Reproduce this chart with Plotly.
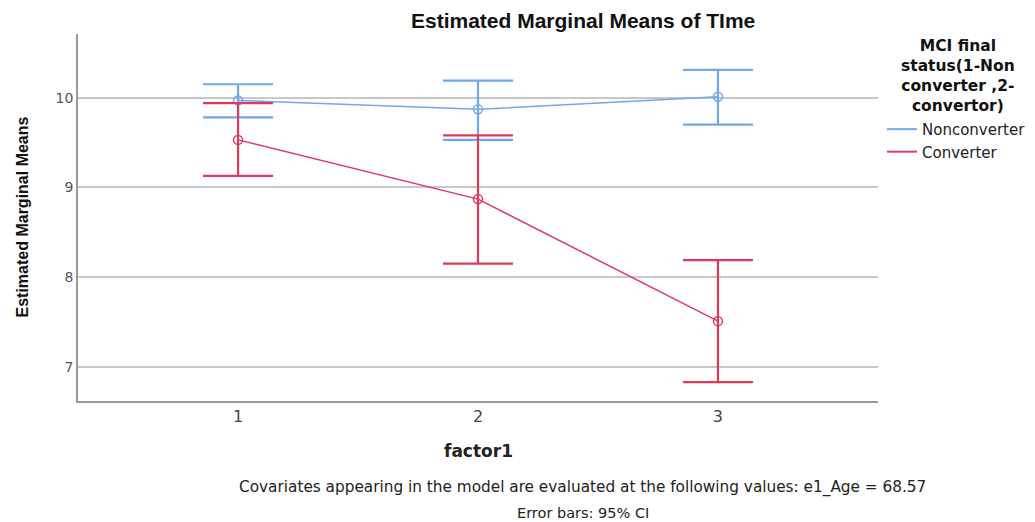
import plotly.graph_objects as go

factor = [1, 2, 3]
tick_labels = ["1", "2", "3"]
non_mean = [9.97, 9.87, 10.01]
non_upper = [10.15, 10.19, 10.31]
non_lower = [9.78, 9.53, 9.70]
conv_mean = [9.53, 8.87, 7.51]
conv_upper = [9.94, 9.58, 8.19]
conv_lower = [9.13, 8.15, 6.83]
series_names = ["Nonconverter", "Converter"]
legend_title = "MCI final<br>status(1-Non<br>converter ,2-<br>convertor)"

blue = "#6FA8EC"
red = "#E0385F"
FONT = "DejaVu Sans, Liberation Sans, Arial, sans-serif"

def err(mean, up, lo, color):
    return dict(type="data", symmetric=False,
                array=[u - m for u, m in zip(up, mean)],
                arrayminus=[m - l for m, l in zip(mean, lo)],
                thickness=2.2, width=35, color=color)

fig = go.Figure()
for name, mean, up, lo, col in [(series_names[0], non_mean, non_upper, non_lower, blue),
                                 (series_names[1], conv_mean, conv_upper, conv_lower, red)]:
    fig.add_trace(go.Scatter(x=factor, y=mean, mode="lines+markers", name=name, showlegend=False,
                             line=dict(color=col, width=1.5),
                             marker=dict(symbol="circle-open", size=9, color=col, line=dict(width=1.5)),
                             error_y=err(mean, up, lo, col)))
    # legend entry (line only)
    fig.add_trace(go.Scatter(x=[None], y=[None], mode="lines", name=name,
                             line=dict(color=col, width=2)))

# page body has an 8px margin, so the figure is sized/offset to fit the 1035x522 window
fig.update_layout(
    width=1027, height=514,
    margin=dict(l=70, r=157, t=26, b=121, autoexpand=False),
    plot_bgcolor="white", paper_bgcolor="white",
    font=dict(family=FONT, color="#222"),
    showlegend=True,
    legend=dict(x=1.005, xanchor="left", y=0.785, yanchor="top",
                font=dict(family=FONT, size=15, color="#222"), bgcolor="rgba(0,0,0,0)",
                tracegroupgap=0, itemwidth=30),
    xaxis=dict(range=[0.333, 3.667], tickvals=factor, ticktext=tick_labels, automargin=False,
               showgrid=False, zeroline=False, showline=True, linecolor="#999",
               linewidth=1.5, ticks="", tickfont=dict(family=FONT, size=16, color="#444")),
    yaxis=dict(range=[6.62, 10.71], tickvals=[7, 8, 9, 10], automargin=False,
               showgrid=True, gridcolor="#C8C8C8", gridwidth=1.5, zeroline=False,
               showline=True, linecolor="#999", linewidth=1.5, ticks="",
               tickfont=dict(family=FONT, size=14, color="#555")),
)

fig.add_annotation(text="<b>Estimated Marginal Means of TIme</b>", xref="paper", yref="paper",
                   x=0.631, y=1.0, yshift=14, yanchor="middle", showarrow=False,
                   font=dict(family="Liberation Sans, Arial", size=21, color="#111"))
fig.add_annotation(text="<b>Estimated Marginal Means</b>", xref="paper", yref="paper",
                   x=0, xshift=-56, xanchor="center", y=0.5, yanchor="middle",
                   textangle=-90, showarrow=False,
                   font=dict(family="Liberation Sans, Arial", size=16, color="#111"))
fig.add_annotation(text="<b>factor1</b>", xref="paper", yref="paper",
                   x=0.5, y=0, yshift=-50, yanchor="middle", showarrow=False,
                   font=dict(family=FONT, size=17, color="#222"))
fig.add_annotation(text="<b>" + legend_title + "</b>", xref="paper", yref="paper",
                   x=1.1, y=1.0, yshift=-42, xanchor="center", yanchor="middle",
                   showarrow=False, align="center",
                   font=dict(family=FONT, size=15.5, color="#111"))
fig.add_annotation(text="Covariates appearing in the model are evaluated at the following values: e1_Age = 68.57",
                   xref="paper", yref="paper", x=0.631, y=0, yshift=-86, yanchor="middle", showarrow=False,
                   font=dict(family=FONT, size=15.3, color="#222"))
fig.add_annotation(text="Error bars: 95% CI",
                   xref="paper", yref="paper", x=0.631, y=0, yshift=-112, yanchor="middle", showarrow=False,
                   font=dict(family=FONT, size=14.5, color="#222"))

fig.write_html("out.html")
